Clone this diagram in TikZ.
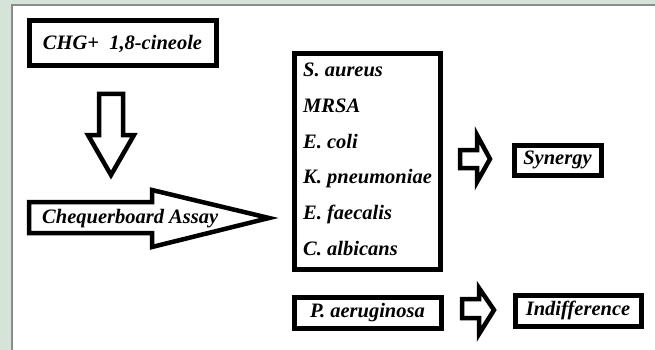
\documentclass[tikz,border=0pt]{standalone}
\usepackage{fontspec}
\setmainfont{Liberation Serif}
\definecolor{bgcol}{HTML}{D6E3D9}
\definecolor{panelborder}{HTML}{8C8C8C}
\begin{document}
\begin{tikzpicture}[x=1pt,y=-1pt,
  lbl/.style={font=\fontsize{20.5}{24}\selectfont\bfseries\itshape, text=black, inner sep=0pt},
  boxed/.style={lbl, draw=black, line width=5pt, fill=white, align=center},
  blockarrow/.style={draw=black, line width=4.5pt, fill=white, line join=miter}]
\useasboundingbox (0,0) rectangle (655,350);
\fill[bgcol] (0,0) rectangle (655,350);
\filldraw[fill=white, draw=panelborder, line width=1.5pt] (12,5) rectangle (662,358);

% boxes
\node[boxed, minimum width=187pt, minimum height=45pt] (chg) at (122.5,43.5) {CHG+\ \ 1,8-cineole};
\node[boxed, minimum width=146pt, minimum height=215pt] (species) at (367,161.5) {};
\node[boxed, minimum width=147pt, minimum height=31pt] (pae) at (367.5,312.5) {P. aeruginosa};
\node[boxed, minimum width=87pt, minimum height=30pt] (syn) at (557.5,160) {Synergy};
\node[boxed, minimum width=126pt, minimum height=31pt] (ind) at (578,310.5) {Indifference};

% species list
\node[lbl, anchor=base west] (sp1) at (303,77) {S. aureus};
\node[lbl, anchor=base west] (sp2) at (303,112.6) {MRSA};
\node[lbl, anchor=base west] (sp3) at (303,148.2) {E. coli};
\node[lbl, anchor=base west] (sp4) at (303,183.8) {K. pneumoniae};
\node[lbl, anchor=base west] (sp5) at (303,219.4) {E. faecalis};
\node[lbl, anchor=base west] (sp6) at (303,255) {C. albicans};

% down arrow
\draw[blockarrow] (99,94) -- (123,94) -- (123,135) -- (134,135) -- (111,175) -- (88,135) -- (99,135) -- cycle;
% chequerboard arrow
\draw[blockarrow] (29,202) -- (152,202) -- (152,190) -- (269,218) -- (152,247) -- (152,233) -- (29,233) -- cycle;
\node[lbl, anchor=base west] (cheq) at (42,223) {Chequerboard Assay};
% synergy arrow
\draw[blockarrow] (460,150) -- (477,150) -- (477,135) -- (490,159) -- (477,182) -- (477,168) -- (460,168) -- cycle;
% indifference arrow
\draw[blockarrow] (462,299) -- (479,299) -- (479,288) -- (494,310) -- (479,334) -- (479,318) -- (462,318) -- cycle;
\end{tikzpicture}
\end{document}
